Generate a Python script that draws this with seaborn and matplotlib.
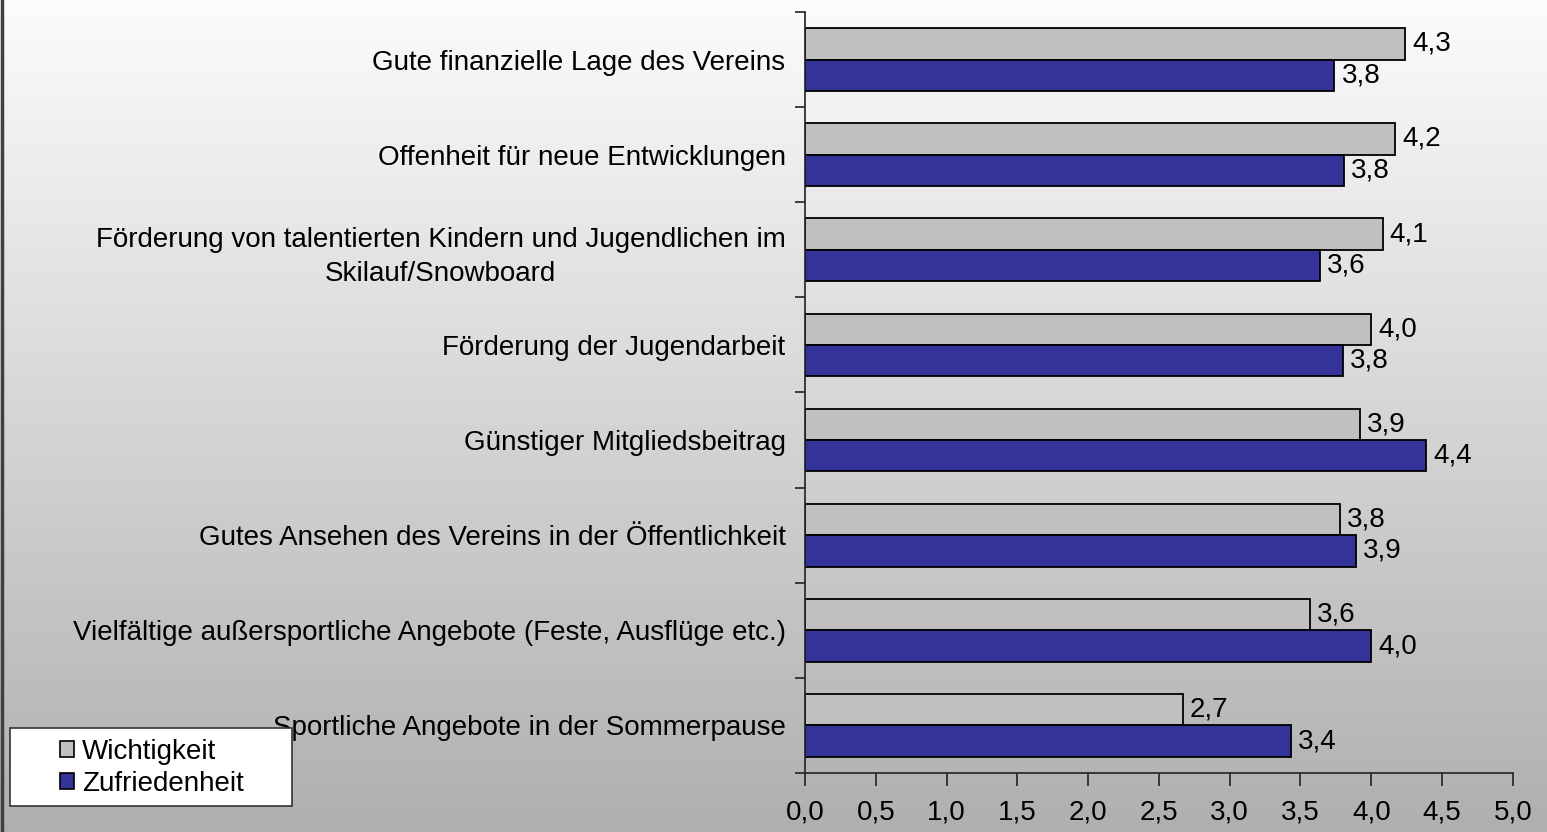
import numpy as np
import pandas as pd
import matplotlib
matplotlib.use("Agg")
import matplotlib.pyplot as plt
import matplotlib.patches as mpatches
from matplotlib.lines import Line2D
from matplotlib.ticker import MultipleLocator, FuncFormatter
import seaborn as sns

sns.set_theme(style="white")
plt.rcParams["font.family"] = ["Liberation Sans", "DejaVu Sans"]
plt.rcParams["text.color"] = "black"
plt.rcParams["xtick.color"] = "black"
plt.rcParams["ytick.color"] = "black"

# data
categories = [
    "Gute finanzielle Lage des Vereins",
    "Offenheit für neue Entwicklungen",
    "Förderung von talentierten Kindern und Jugendlichen im\nSkilauf/Snowboard",
    "Förderung der Jugendarbeit",
    "Günstiger Mitgliedsbeitrag",
    "Gutes Ansehen des Vereins in der Öffentlichkeit",
    "Vielfältige außersportliche Angebote (Feste, Ausflüge etc.)",
    "Sportliche Angebote in der Sommerpause",
]
wichtigkeit = [4.24, 4.17, 4.08, 4.00, 3.92, 3.78, 3.57, 2.67]
zufriedenheit = [3.74, 3.81, 3.64, 3.80, 4.39, 3.89, 4.00, 3.43]
wichtigkeit_lbl = ["4,3", "4,2", "4,1", "4,0", "3,9", "3,8", "3,6", "2,7"]
zufriedenheit_lbl = ["3,8", "3,8", "3,6", "3,8", "4,4", "3,9", "4,0", "3,4"]
series = ["Wichtigkeit", "Zufriedenheit"]
colors = {"Wichtigkeit": "#c0c0c0", "Zufriedenheit": "#333399"}

df = pd.DataFrame({
    "Kategorie": categories * 2,
    "Wert": wichtigkeit + zufriedenheit,
    "Reihe": [series[0]] * len(categories) + [series[1]] * len(categories),
})

fig = plt.figure(figsize=(15.47, 8.32), dpi=100)

# gradient background over the whole figure
bg = fig.add_axes([0, 0, 1, 1], zorder=0)
grad = np.linspace(0.985, 0.685, 256).reshape(-1, 1)
bg.imshow(grad, aspect="auto", cmap="gray", vmin=0, vmax=1, extent=[0, 1, 0, 1])
bg.set_axis_off()
# left border line of the chart area
fig.lines.append(Line2D([0.0015, 0.0015], [0, 1], transform=fig.transFigure,
                        color="#404040", linewidth=2.5))

ax = fig.add_axes([0.5204, 0.0709, 0.4575, 0.9147], zorder=1)
ax.patch.set_alpha(0)

sns.barplot(data=df, y="Kategorie", x="Wert", hue="Reihe", orient="h",
            palette=colors, width=0.66, edgecolor="black", linewidth=1.3,
            saturation=1, ax=ax, legend=False)

# value labels
labels_by_series = [wichtigkeit_lbl, zufriedenheit_lbl]
for cont, lbls in zip(ax.containers, labels_by_series):
    ax.bar_label(cont, labels=lbls, padding=5, fontsize=20, color="black")

ax.set_xlim(0, 5)
ax.set_ylim(7.5, -0.5)
ax.xaxis.set_major_locator(MultipleLocator(0.5))
ax.xaxis.set_major_formatter(FuncFormatter(lambda v, p: f"{v:.1f}".replace(".", ",")))
ax.tick_params(axis="x", which="major", length=9, width=1.2, color="#222222",
               direction="out", labelsize=20, pad=10, bottom=True)

# category labels at centres, tick marks on the boundaries
ax.set_yticks(range(len(categories)))
ax.set_yticklabels(categories, fontsize=20, multialignment="center", linespacing=1.4)
ax.tick_params(axis="y", which="major", length=0, pad=14)
ax.set_yticks(np.arange(-0.5, len(categories), 1.0), minor=True)
ax.tick_params(axis="y", which="minor", length=7, width=1.2, color="#222222",
               direction="out", left=True)

ax.set_xlabel("")
ax.set_ylabel("")
for s in ["top", "right"]:
    ax.spines[s].set_visible(False)
for s in ["left", "bottom"]:
    ax.spines[s].set_color("#222222")
    ax.spines[s].set_linewidth(1.2)

# legend: white box drawn by hand, frameless legend centred inside
W, H = 1547.0, 832.0
box = mpatches.Rectangle((10 / W, 1 - 806 / H), 282 / W, 78 / H, transform=fig.transFigure,
                         facecolor="white", edgecolor="#333333", linewidth=1.2, zorder=4)
fig.patches.append(box)
handles = [mpatches.Patch(facecolor=colors[s], edgecolor="black", linewidth=1.2, label=s)
           for s in series]
leg = fig.legend(handles=handles, loc="center", bbox_to_anchor=(152 / W, 1 - 768 / H),
                 fontsize=20, frameon=False, handlelength=0.5, handleheight=0.5,
                 handletextpad=0.3, borderpad=0, labelspacing=0.22, borderaxespad=0)
leg.set_zorder(5)

fig.savefig("out.png", dpi=100)
